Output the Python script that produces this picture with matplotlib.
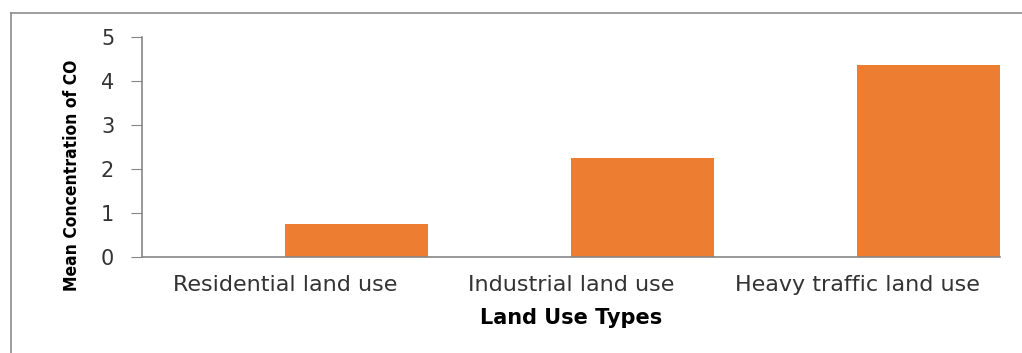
import matplotlib
matplotlib.use("Agg")
import matplotlib.pyplot as plt
from matplotlib.lines import Line2D

# Mean CO concentration per land use type
categories = ["Residential land use", "Industrial land use", "Heavy traffic land use"]
mean_co = [0.74, 2.25, 4.36]

BAR_COLOR = "#ED7D31"
AXIS_COLOR = "#868686"
TEXT_COLOR = "#333333"

plt.rcParams["font.family"] = ["DejaVu Sans"]

fig = plt.figure(figsize=(10.22, 3.53), dpi=100)
ax = fig.add_axes([142 / 1022, 96 / 353, 858 / 1022, 220 / 353])

x = list(range(len(categories)))
# bars sit in the right half of each category slot (empty first series)
ax.bar(x, mean_co, width=0.5, align="edge", color=BAR_COLOR, edgecolor="none")

ax.set_xlim(-0.5, len(categories) - 0.5)
ax.set_ylim(0, 5)
ax.set_yticks([0, 1, 2, 3, 4, 5])
ax.set_xticks(x)
ax.set_xticklabels(categories, fontsize=16, color=TEXT_COLOR)
ax.tick_params(axis="x", length=0, pad=13)
ax.tick_params(axis="y", labelsize=15, direction="out", length=8, color=AXIS_COLOR,
               pad=12, labelcolor=TEXT_COLOR)

for side in ["top", "right"]:
    ax.spines[side].set_visible(False)
for side in ["left", "bottom"]:
    ax.spines[side].set_color(AXIS_COLOR)
    ax.spines[side].set_linewidth(1.2)

ax.set_xlabel("Land Use Types", fontsize=15, fontweight="bold", labelpad=9)
fig.text(72 / 1022, 1 - 175 / 353, "Mean Concentration of CO", rotation=90,
         ha="center", va="center", fontsize=12.5, fontweight="bold",
         fontstretch="condensed")

# outer frame (top and left edges only visible)
fig.add_artist(Line2D([11 / 1022, 11 / 1022], [0, 1 - 13 / 353], transform=fig.transFigure,
                      color="#8c8c8c", lw=1.2))
fig.add_artist(Line2D([11 / 1022, 1], [1 - 13 / 353, 1 - 13 / 353], transform=fig.transFigure,
                      color="#8c8c8c", lw=1.2))

fig.savefig("out.png", dpi=100)
